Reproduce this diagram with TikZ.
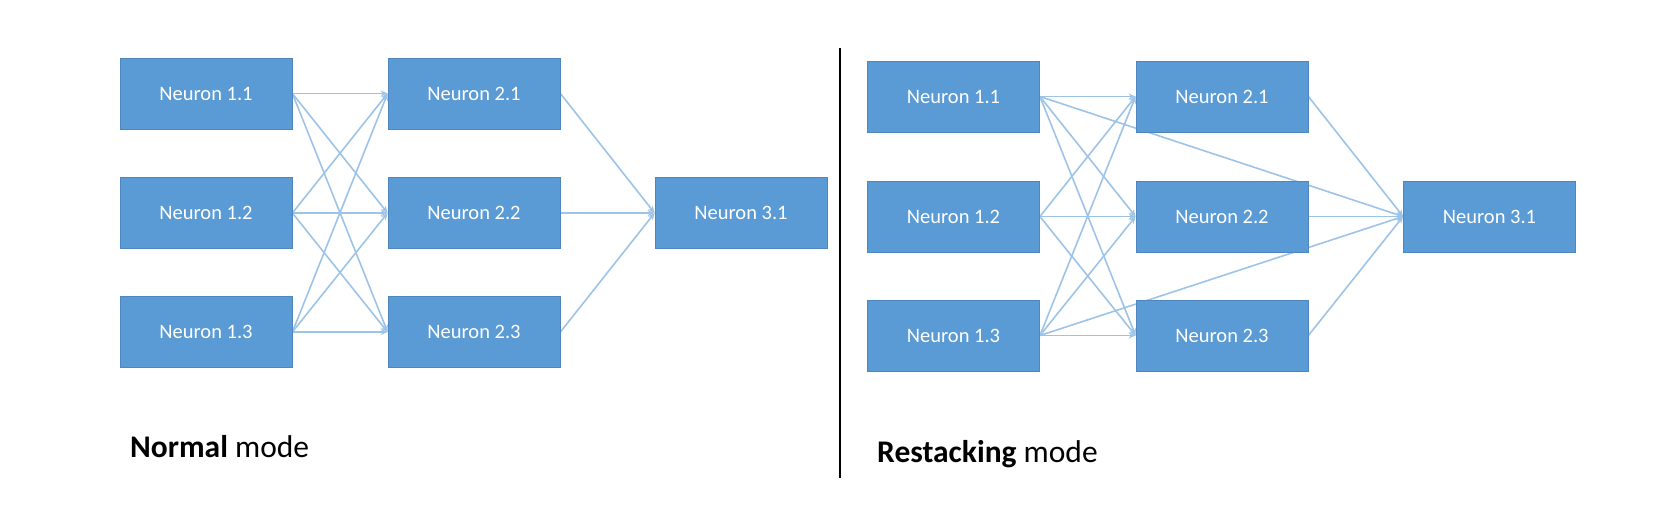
\documentclass[tikz,border=0pt]{standalone}
\usepackage{fontspec}
\setmainfont{Carlito}
\usetikzlibrary{arrows.meta,backgrounds}
\definecolor{boxfill}{HTML}{5B9BD5}
\definecolor{boxedge}{HTML}{4F86BE}
\definecolor{linkcol}{HTML}{9DC3E6}
\tikzset{
  neuron/.style={rectangle, fill=boxfill, draw=boxedge, line width=0.8pt,
    minimum width=172pt, minimum height=71pt, inner sep=0pt,
    text=white, font=\fontsize{20.5}{24}\selectfont},
  link/.style={draw=linkcol, line width=1.6pt, -{Stealth[length=7pt,width=6pt]}},
  caption/.style={anchor=base west, inner sep=0pt, font=\fontsize{31.5}{36}\selectfont}
}
\begin{document}
\begin{tikzpicture}[x=1pt,y=-1pt]
\useasboundingbox (0,0) rectangle (1666,520);
% Normal mode
\node[neuron] (a11) at (206,93.5) {Neuron 1.1};
\node[neuron] (a12) at (206,213) {Neuron 1.2};
\node[neuron] (a13) at (206,332) {Neuron 1.3};
\node[neuron] (a21) at (474,93.5) {Neuron 2.1};
\node[neuron] (a22) at (474,213) {Neuron 2.2};
\node[neuron] (a23) at (474,332) {Neuron 2.3};
\node[neuron] (a31) at (741,213) {Neuron 3.1};
% Restacking mode
\node[neuron] (b11) at (953.5,96.5) {Neuron 1.1};
\node[neuron] (b12) at (953.5,216.5) {Neuron 1.2};
\node[neuron] (b13) at (953.5,335.5) {Neuron 1.3};
\node[neuron] (b21) at (1222,96.5) {Neuron 2.1};
\node[neuron] (b22) at (1222,216.5) {Neuron 2.2};
\node[neuron] (b23) at (1222,335.5) {Neuron 2.3};
\node[neuron] (b31) at (1489.5,216.5) {Neuron 3.1};
\begin{scope}[on background layer]
\foreach \i in {1,2,3}{
  \foreach \j in {1,2,3}{
    \draw[link] (a1\i.east) -- (a2\j.west);
    \draw[link] (b1\i.east) -- (b2\j.west);
  }
  \draw[link] (a2\i.east) -- (a31.west);
  \draw[link] (b2\i.east) -- (b31.west);
}
\draw[link] (b11.east) -- (b31.west);
\draw[link] (b13.east) -- (b31.west);
\end{scope}
% divider
\coordinate (dtop) at (840,48);
\coordinate (dbot) at (840,478);
\draw[line width=2.6pt] (dtop) -- (dbot);
% captions
\node[caption] (capn) at (130,457) {\textbf{Normal} mode};
\node[caption] (capr) at (877,462) {\textbf{Restacking} mode};
\end{tikzpicture}
\end{document}
